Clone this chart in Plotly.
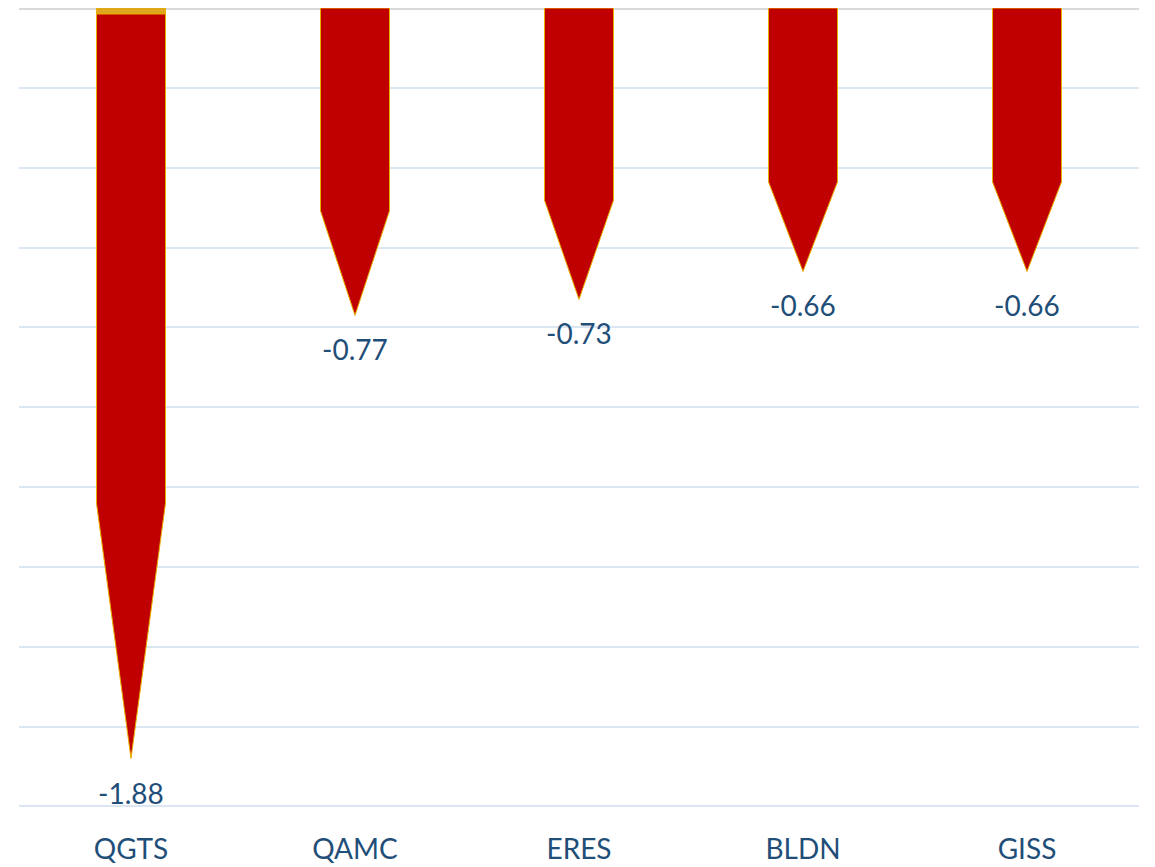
import plotly.graph_objects as go

categories = ["QGTS", "QAMC", "ERES", "BLDN", "GISS"]
values = [-1.88, -0.77, -0.73, -0.66, -0.66]
cap_values = [-0.015, 0.0, 0.0, 0.0, 0.0]   # small gold segment on top
label_texts = ["-1.88", "-0.77", "-0.73", "-0.66", "-0.66"]
y_ticks = [0.0, -0.2, -0.4, -0.6, -0.8, -1.0, -1.2, -1.4, -1.6, -1.8, -2.0]

RED = "#C00000"
GOLD = "#DDA520"
EDGE = "#E8B000"
TEXT = "#1F4E79"
FONT = "Lato"

half_w = 0.154
shoulder = 0.66

fig = go.Figure()

for i, (cat, v, c) in enumerate(zip(categories, values, cap_values)):
    if c != 0:
        fig.add_trace(go.Scatter(
            x=[i - half_w, i + half_w, i + half_w, i - half_w, i - half_w],
            y=[0, 0, c, c, 0],
            fill="toself", fillcolor=GOLD, mode="lines",
            line=dict(color=EDGE, width=1), hoverinfo="skip", showlegend=False))
    top = c
    sh = v * shoulder
    fig.add_trace(go.Scatter(
        x=[i - half_w, i + half_w, i + half_w, i, i - half_w, i - half_w],
        y=[top, top, sh, v, sh, top],
        fill="toself", fillcolor=RED, mode="lines",
        line=dict(color=EDGE, width=1), name=cat, showlegend=False))
    fig.add_annotation(x=i, y=v, text=label_texts[i], showarrow=False,
                       yanchor="top", yshift=-15,
                       font=dict(family=FONT, size=28, color=TEXT))

fig.update_layout(
    width=1155, height=867,
    margin=dict(l=11, r=24, t=0, b=67),
    plot_bgcolor="white", paper_bgcolor="white",
    xaxis=dict(range=[-0.5, 4.5], tickmode="array",
               tickvals=list(range(len(categories))), ticktext=categories,
               showgrid=False, zeroline=False, showline=False,
               ticks="outside", ticklen=16, tickcolor="rgba(0,0,0,0)",
               tickfont=dict(family=FONT, size=28, color=TEXT)),
    yaxis=dict(range=[-2.004, 0.0], tickvals=y_ticks, showticklabels=False,
               showgrid=True, gridcolor="#DCE6F2", gridwidth=2,
               zeroline=True, zerolinecolor="#D9D9D9", zerolinewidth=3,
               showline=False),
)

fig.write_html("out.html")
